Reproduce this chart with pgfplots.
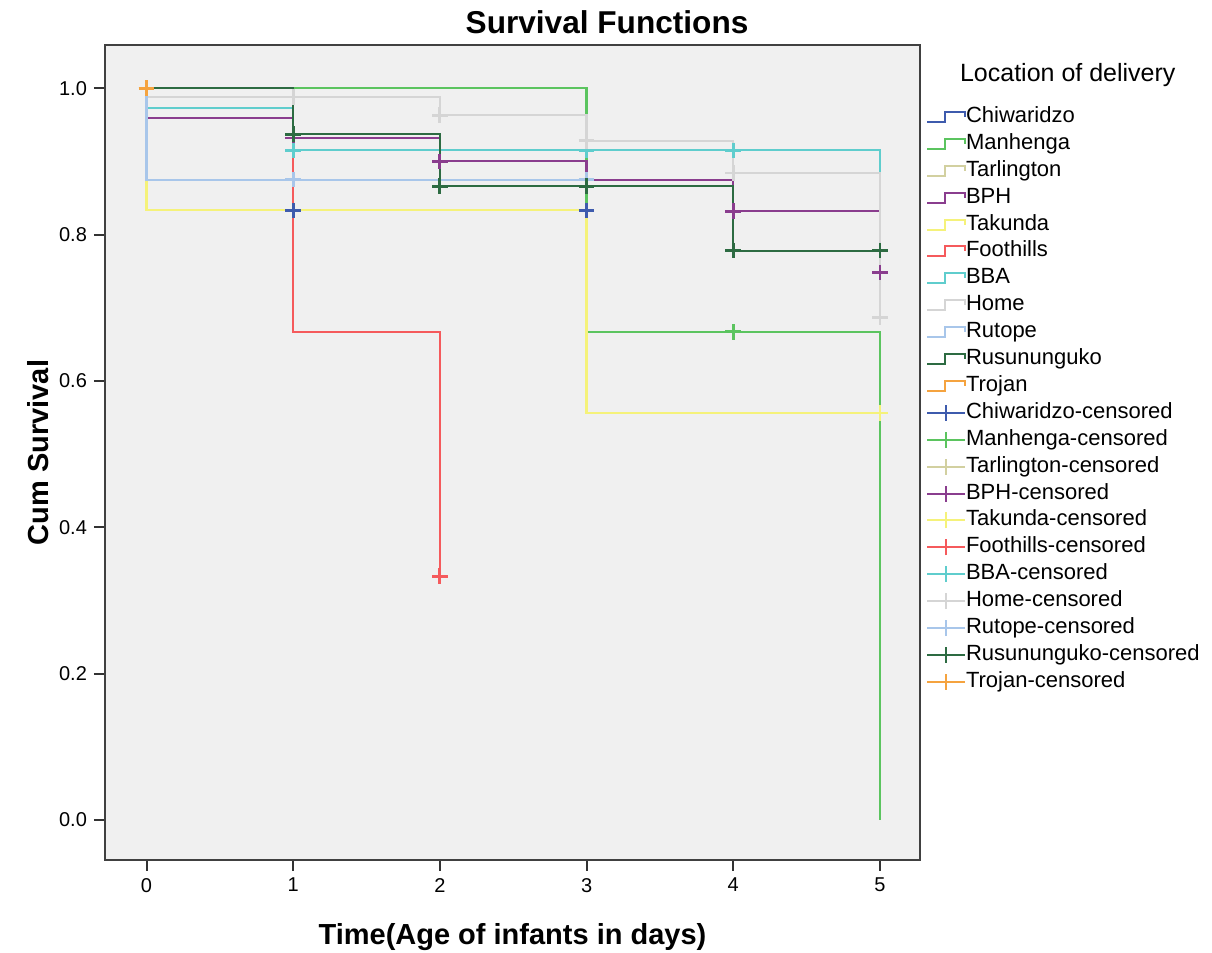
\documentclass[border=0pt]{standalone}
\usepackage{pgfplots}
\pgfplotsset{compat=1.18}
\usepackage{fontspec}
\setmainfont{Liberation Sans}
\definecolor{chiw}{HTML}{3E5BAD}
\definecolor{manh}{HTML}{5BC45F}
\definecolor{tarl}{HTML}{D2D0A0}
\definecolor{bph}{HTML}{8A3D8E}
\definecolor{taku}{HTML}{F5F27A}
\definecolor{foot}{HTML}{F55A5C}
\definecolor{bba}{HTML}{5FCDCD}
\definecolor{home}{HTML}{D5D5D5}
\definecolor{rutp}{HTML}{A8C6EA}
\definecolor{rusu}{HTML}{2D6B42}
\definecolor{troj}{HTML}{F5A33F}
\definecolor{bgray}{HTML}{F0F0F0}
\pgfplotsset{
  steplegend/.style={legend image code/.code={\draw[#1,line width=1pt] (0pt,-2.5pt) -- (9pt,-2.5pt) -- (9pt,2.5pt) -- (19pt,2.5pt) -- (19pt,0pt);}},
  censlegend/.style={legend image code/.code={\draw[#1,line width=1pt] (0pt,0pt) -- (19pt,0pt) (9.5pt,-4pt) -- (9.5pt,4pt);}},
  cens/.style={#1, only marks, mark=+, mark size=3.9pt, mark options={line width=1.4pt}, censlegend=#1},
  stepl/.style={#1, line width=1.1pt, steplegend=#1},
}
\begin{document}
\begin{tikzpicture}
\path[use as bounding box] (-52.5pt,-46.5pt) rectangle (553.5pt,430pt);
\begin{axis}[
  at={(0pt,0pt)}, anchor=south west,
  scale only axis, width=407.5pt, height=407.5pt,
  xmin=-0.283, xmax=5.273, ymin=-0.0547, ymax=1.059,
  axis background/.style={fill=bgray},
  axis line style={draw=black!75, line width=0.9pt},
  xtick={0,1,2,3,4,5}, ytick={0,0.2,0.4,0.6,0.8,1.0},
  tick align=outside, xtick pos=bottom, ytick pos=left,
  major tick length=5.5pt,
  tick style={black!80, line width=1pt},
  ticklabel style={font=\fontsize{10}{12}\selectfont},
  /pgf/number format/assume math mode=true,
  yticklabel style={/pgf/number format/.cd, fixed, fixed zerofill, precision=1},
  xlabel={Time(Age of infants in days)}, ylabel={Cum Survival},
  label style={font=\fontsize{14.5}{17}\selectfont\bfseries},
  xlabel style={at={(axis description cs:0.5,-0.0945)}, anchor=center},
  ylabel style={at={(axis description cs:-0.082,0.5)}, anchor=center},
  title={Survival Functions},
  every axis title shift=0pt,
  title style={at={(axis description cs:0.616,1.028)}, anchor=center, font=\fontsize{15.8}{18}\selectfont\bfseries},
  legend style={at={(axis description cs:1.0074,0.9246)}, anchor=north west, draw=none, fill=none, inner sep=0pt, outer sep=0pt, row sep=2.95pt, font=\fontsize{11}{13}\selectfont, nodes={inner sep=0pt, text height=8pt, text depth=2.5pt}, /tikz/every even column/.append style={column sep=2.5pt}},
  legend cell align=left,
  clip=false,
]
\addplot[stepl=chiw] coordinates {(0,1) (0,0.833) (3,0.833)};
\addplot[stepl=manh] coordinates {(0,1) (3,1) (3,0.667) (5,0.667) (5,0)};
\addplot[stepl=tarl] coordinates {(0,1) (1,1)};
\addplot[stepl=bph] coordinates {(0,1) (0,0.959) (1,0.959) (1,0.932) (2,0.932) (2,0.900) (3,0.900) (3,0.874) (4,0.874) (4,0.832) (5,0.832) (5,0.748)};
\addplot[stepl=taku] coordinates {(0,1) (0,0.833) (3,0.833) (3,0.556) (5,0.556)};
\addplot[stepl=foot] coordinates {(0,1) (1,1) (1,0.667) (2,0.667) (2,0.333)};
\addplot[stepl=bba] coordinates {(0,1) (0,0.973) (1,0.973) (1,0.915) (5,0.915) (5,0.885)};
\addplot[stepl=home] coordinates {(0,1) (0,0.988) (2,0.988) (2,0.963) (3,0.963) (3,0.928) (4,0.928) (4,0.884) (5,0.884) (5,0.687)};
\addplot[stepl=rutp] coordinates {(0,1) (0,0.875) (3,0.875)};
\addplot[stepl=rusu] coordinates {(0,1) (1,1) (1,0.937) (2,0.937) (2,0.866) (4,0.866) (4,0.778) (5,0.778)};
\addplot[stepl=troj] coordinates {(0,1) (0,1)};
\addplot[cens=chiw] coordinates {(1,0.833) (3,0.833)};
\addplot[cens=manh] coordinates {(4,0.667)};
\addplot[cens=tarl] coordinates {(0,1)};
\addplot[cens=bph] coordinates {(1,0.932) (2,0.900) (4,0.832) (5,0.748)};
\addplot[cens=taku] coordinates {(5,0.556)};
\addplot[cens=foot] coordinates {(2,0.333)};
\addplot[cens=bba] coordinates {(1,0.915) (3,0.915) (4,0.915)};
\addplot[cens=home] coordinates {(1,0.988) (2,0.963) (3,0.928) (4,0.884) (5,0.687)};
\addplot[cens=rutp] coordinates {(1,0.875) (3,0.875)};
\addplot[cens=rusu] coordinates {(1,0.937) (2,0.866) (3,0.866) (4,0.778) (5,0.778)};
\addplot[cens=troj] coordinates {(0,1)};
\legend{Chiwaridzo,Manhenga,Tarlington,BPH,Takunda,Foothills,BBA,Home,Rutope,Rusununguko,Trojan,Chiwaridzo-censored,Manhenga-censored,Tarlington-censored,BPH-censored,Takunda-censored,Foothills-censored,BBA-censored,Home-censored,Rutope-censored,Rusununguko-censored,Trojan-censored}
\node[anchor=west, font=\fontsize{12.5}{15}\selectfont] at (axis description cs:1.0405,0.963) {Location of delivery};
\end{axis}
\end{tikzpicture}
\end{document}
